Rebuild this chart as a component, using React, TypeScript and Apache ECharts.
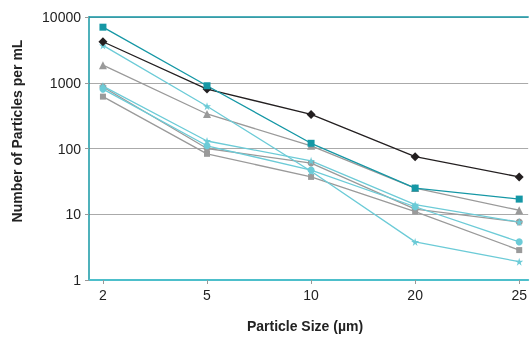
import React, { useEffect, useRef } from "react";
import * as echarts from "echarts";

const categories = ["2", "5", "10", "20", "25"];
const tealSquare = [7000, 900, 120, 25, 17];
const blackDiamond = [4200, 800, 330, 75, 37];
const tealStar = [3700, 440, 45, 3.8, 1.9];
const grayTriangle = [1850, 335, 110, 25, 11.5];
const tealStar2 = [890, 130, 65, 14, 7.6];
const tealCircle = [800, 110, 47, 13, 3.8];
const grayCircle = [860, 100, 60, 12, 7.6];
const graySquare = [615, 83, 37, 11, 2.85];
const yTicks = [1, 10, 100, 1000, 10000];

const TEAL = "#1597a5";
const LTEAL = "#6ccbd7";
const GRAY = "#9a9a9a";
const BLACK = "#231f20";
const STAR = "path://M50,0 L61,35 L98,35 L68,57 L79,91 L50,70 L21,91 L32,57 L2,35 L39,35 Z";
const FONT = "'Liberation Sans', Arial, sans-serif";

function mk(name: string, vals: number[], color: string, symbol: string, size: number) {
  return {
    name,
    type: "line",
    xAxisIndex: 0,
    data: vals.map((v, i) => [i, v]),
    symbol,
    symbolSize: size,
    lineStyle: { color, width: 1.3 },
    itemStyle: { color },
  };
}

export default function App() {
  const ref = useRef<HTMLDivElement>(null);
  useEffect(() => {
    const chart = echarts.init(ref.current!, null, { renderer: "svg" });
    chart.setOption({
      animation: false,
      grid: { left: 89, right: 0, top: 17, bottom: 58 },
      xAxis: [
        {
          type: "value",
          min: -0.134,
          max: 4.086,
          splitLine: { show: false },
          axisLine: { show: true, onZero: false, lineStyle: { color: "#4dbfcb", width: 2 } },
          axisTick: { show: true, customValues: [0, 1, 2, 3, 4], length: 4, lineStyle: { color: "#999" } },
          axisLabel: {
            customValues: [0, 1, 2, 3, 4],
            formatter: (v: number) => categories[Math.round(v)],
            color: "#222",
            fontSize: 14,
            fontFamily: FONT,
            margin: 8,
          },
        },
        {
          type: "value",
          position: "top",
          min: -0.134,
          max: 4.086,
          splitLine: { show: false },
          axisLine: { show: true, onZero: false, lineStyle: { color: TEAL, width: 1.5 } },
          axisTick: { show: false },
          axisLabel: { show: false },
        },
      ],
      yAxis: {
        type: "log",
        logBase: 10,
        min: yTicks[0],
        max: yTicks[yTicks.length - 1],
        axisLine: { show: true, onZero: false, lineStyle: { color: TEAL, width: 1.5 } },
        axisTick: { show: true, length: 4, lineStyle: { color: "#999" } },
        splitLine: { show: true, lineStyle: { color: "#aaa", width: 1.2 } },
        axisLabel: {
          formatter: (v: number) => String(v),
          color: "#222",
          fontSize: 14,
          fontFamily: FONT,
          margin: 8,
        },
      },
      graphic: [
        {
          type: "text",
          x: 17,
          y: 131,
          rotation: Math.PI / 2,
          style: {
            text: "Number of Particles per mL",
            font: "bold 14px " + FONT,
            fill: "#222",
            align: "center",
            verticalAlign: "middle",
          },
        },
        {
          type: "text",
          x: 305,
          y: 326,
          style: {
            text: "Particle Size (µm)",
            font: "bold 14px " + FONT,
            fill: "#222",
            align: "center",
            verticalAlign: "middle",
          },
        },
      ],
      series: [
        mk("S8", graySquare, GRAY, "rect", 6),
        mk("S7", grayCircle, GRAY, "circle", 7),
        mk("S6", tealCircle, LTEAL, "circle", 7),
        mk("S5", tealStar2, LTEAL, STAR, 8),
        mk("S4", grayTriangle, GRAY, "triangle", 8),
        mk("S3", tealStar, LTEAL, STAR, 8),
        mk("S2", blackDiamond, BLACK, "diamond", 9),
        mk("S1", tealSquare, TEAL, "rect", 7),
      ],
    });
    return () => chart.dispose();
  }, []);
  return <div ref={ref} style={{ position: "fixed", left: 0, top: 0, width: 530, height: 338 }} />;
}
